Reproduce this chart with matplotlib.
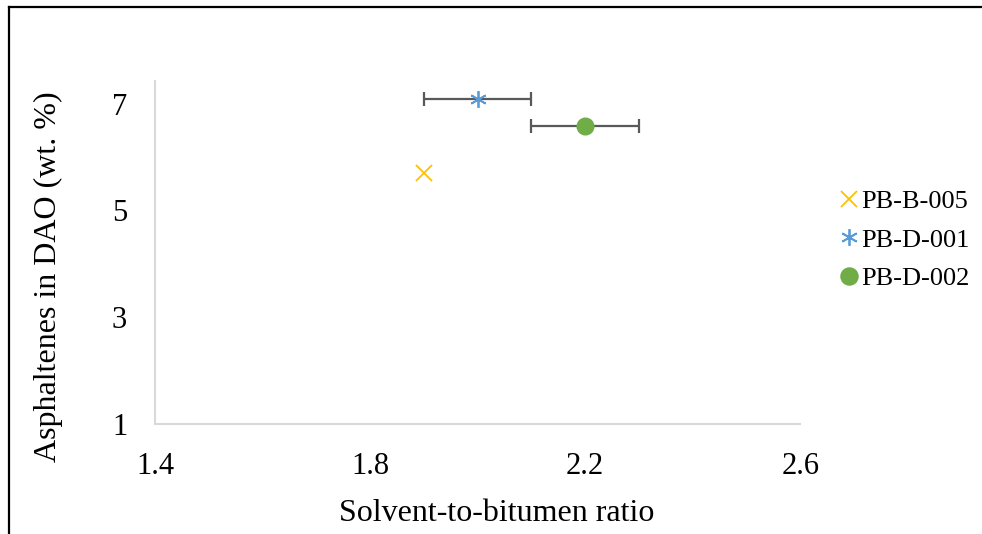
import matplotlib.pyplot as plt
from matplotlib.lines import Line2D

# data
samples = ['PB-B-005', 'PB-D-001', 'PB-D-002']
ratio = [1.9, 2.0, 2.2]
asphaltenes = [5.7, 7.08, 6.58]
ratio_err = [0.0, 0.1, 0.1]

colors = ['#FFC000', '#5B9BD5', '#70AD47']
markers = ['x', (6, 2, 0), 'o']
msizes = [11, 12, 12]

plt.rcParams['font.family'] = ['Liberation Serif', 'DejaVu Serif']

fig = plt.figure(figsize=(9.82, 5.34), dpi=100)
ax = fig.add_axes([0.1578, 0.206, 0.657, 0.642])

# error bars first, so markers sit on top
for x, y, e in zip(ratio, asphaltenes, ratio_err):
    if e > 0:
        ax.errorbar(x, y, xerr=e, fmt='none', ecolor='#595959',
                    elinewidth=1.6, capsize=5, capthick=1.6, zorder=2)

for x, y, c, m, s, lab in zip(ratio, asphaltenes, colors, markers, msizes, samples):
    if m == 'o':
        ax.plot(x, y, linestyle='none', marker=m, markersize=s,
                color=c, zorder=3, label=lab)
    else:
        ax.plot(x, y, linestyle='none', marker=m, markersize=s,
                color=c, markeredgewidth=1.3, zorder=3, label=lab)

ax.set_xlim(1.4, 2.6)
ax.set_ylim(1, 7.42)
ax.set_xticks([1.4, 1.8, 2.2, 2.6])
ax.set_yticks([1, 3, 5, 7])
ax.tick_params(length=0, labelsize=22)
ax.tick_params(axis='x', pad=20)
ax.tick_params(axis='y', pad=20)

for side in ['top', 'right']:
    ax.spines[side].set_visible(False)
for side in ['left', 'bottom']:
    ax.spines[side].set_color('#D9D9D9')
    ax.spines[side].set_linewidth(1.5)

ax.set_xlabel('Solvent-to-bitumen ratio', fontsize=23)
ax.set_ylabel('Asphaltenes in DAO (wt. %)', fontsize=23)
ax.xaxis.set_label_coords(0.530, -0.220)
ax.yaxis.set_label_coords(-0.143, 0.429)

handles = [Line2D([], [], linestyle='none', marker=m, markersize=s,
                  color=c, markeredgewidth=1.3)
           for m, s, c in zip(markers, msizes, colors)]
fig.legend(handles, samples, loc='center left', bbox_to_anchor=(0.842, 0.551),
           frameon=False, fontsize=19, handlelength=0.7, handletextpad=0.1,
           labelspacing=0.56, borderpad=0)

# outer frame of the cropped chart area
fig.add_artist(Line2D([0.0092, 0.0092], [0, 0.987], color='black', linewidth=1.6))
fig.add_artist(Line2D([0.0092, 1.0], [0.987, 0.987], color='black', linewidth=1.6))

fig.savefig('out.png', dpi=100)
